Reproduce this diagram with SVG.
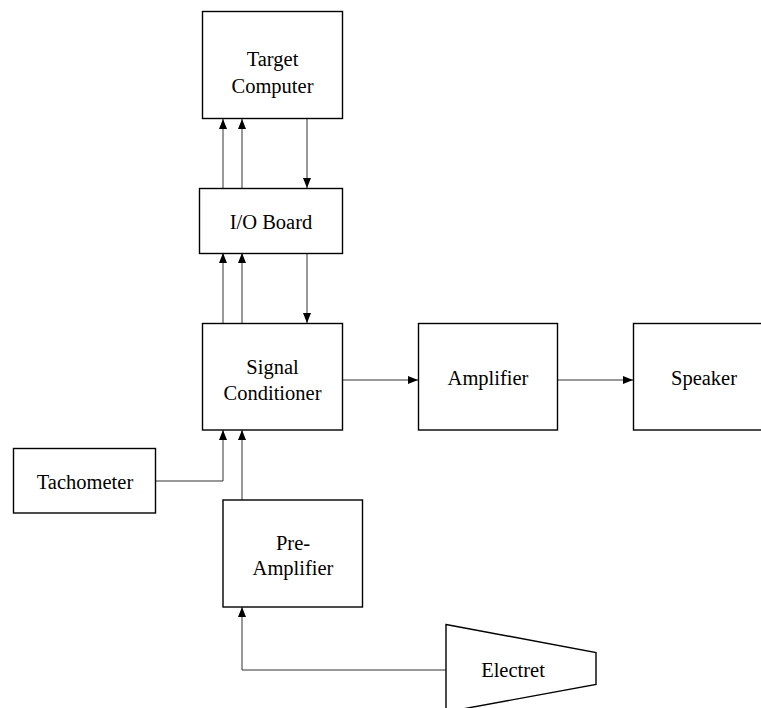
<svg xmlns="http://www.w3.org/2000/svg" width="761" height="708" viewBox="0 0 761 708">
<defs>
<marker id="ah" viewBox="0 0 10 8" refX="10" refY="4" markerWidth="10" markerHeight="8" markerUnits="userSpaceOnUse" orient="auto">
<path d="M0,0 L10,4 L0,8 Z" fill="#000"/>
</marker>
</defs>
<style>
.box{fill:#fff;stroke:#000;stroke-width:1.4}
.lbl{font-family:"Liberation Serif","Times New Roman",serif;font-size:20.5px;fill:#000;text-anchor:middle}
.con{fill:none;stroke:#333;stroke-width:1}
</style>
<rect width="761" height="708" fill="#fff"/>
<g id="connectors">
<path class="con" d="M223,188 V119" marker-end="url(#ah)"/>
<path class="con" d="M242,188 V119" marker-end="url(#ah)"/>
<path class="con" d="M307,119 V188" marker-end="url(#ah)"/>
<path class="con" d="M223,323 V253" marker-end="url(#ah)"/>
<path class="con" d="M242,323 V253" marker-end="url(#ah)"/>
<path class="con" d="M307,253 V323" marker-end="url(#ah)"/>
<path class="con" d="M342,380 H418" marker-end="url(#ah)"/>
<path class="con" d="M557,380 H633" marker-end="url(#ah)"/>
<path class="con" d="M156,481 H223 V430" marker-end="url(#ah)"/>
<path class="con" d="M242,500 V430" marker-end="url(#ah)"/>
<path class="con" d="M446,670 H242 V607" marker-end="url(#ah)"/>
</g>
<g id="target-computer">
<rect class="box" x="202.5" y="11.5" width="140" height="107"/>
<text class="lbl" x="272.5" y="65.5">Target</text>
<text class="lbl" x="272.5" y="93">Computer</text>
</g>
<g id="io-board">
<rect class="box" x="199.5" y="188.5" width="143" height="65"/>
<text class="lbl" x="271" y="229">I/O Board</text>
</g>
<g id="signal-conditioner">
<rect class="box" x="202.5" y="323.5" width="140" height="106.5"/>
<text class="lbl" x="272.5" y="374">Signal</text>
<text class="lbl" x="272.5" y="400">Conditioner</text>
</g>
<g id="amplifier">
<rect class="box" x="418.5" y="323.5" width="139" height="106.5"/>
<text class="lbl" x="488" y="385">Amplifier</text>
</g>
<g id="speaker">
<rect class="box" x="633.5" y="323.5" width="140" height="106.5"/>
<text class="lbl" x="704" y="385">Speaker</text>
</g>
<g id="tachometer">
<rect class="box" x="13.5" y="448.5" width="142" height="64.5"/>
<text class="lbl" x="85" y="489">Tachometer</text>
</g>
<g id="pre-amplifier">
<rect class="box" x="223" y="500" width="139.5" height="107"/>
<text class="lbl" x="293" y="549.5">Pre-</text>
<text class="lbl" x="293" y="575">Amplifier</text>
</g>
<g id="electret">
<path class="box" d="M446,624.5 L596,652.5 V684.5 L446,712 Z"/>
<text class="lbl" x="513" y="677">Electret</text>
</g>
</svg>
